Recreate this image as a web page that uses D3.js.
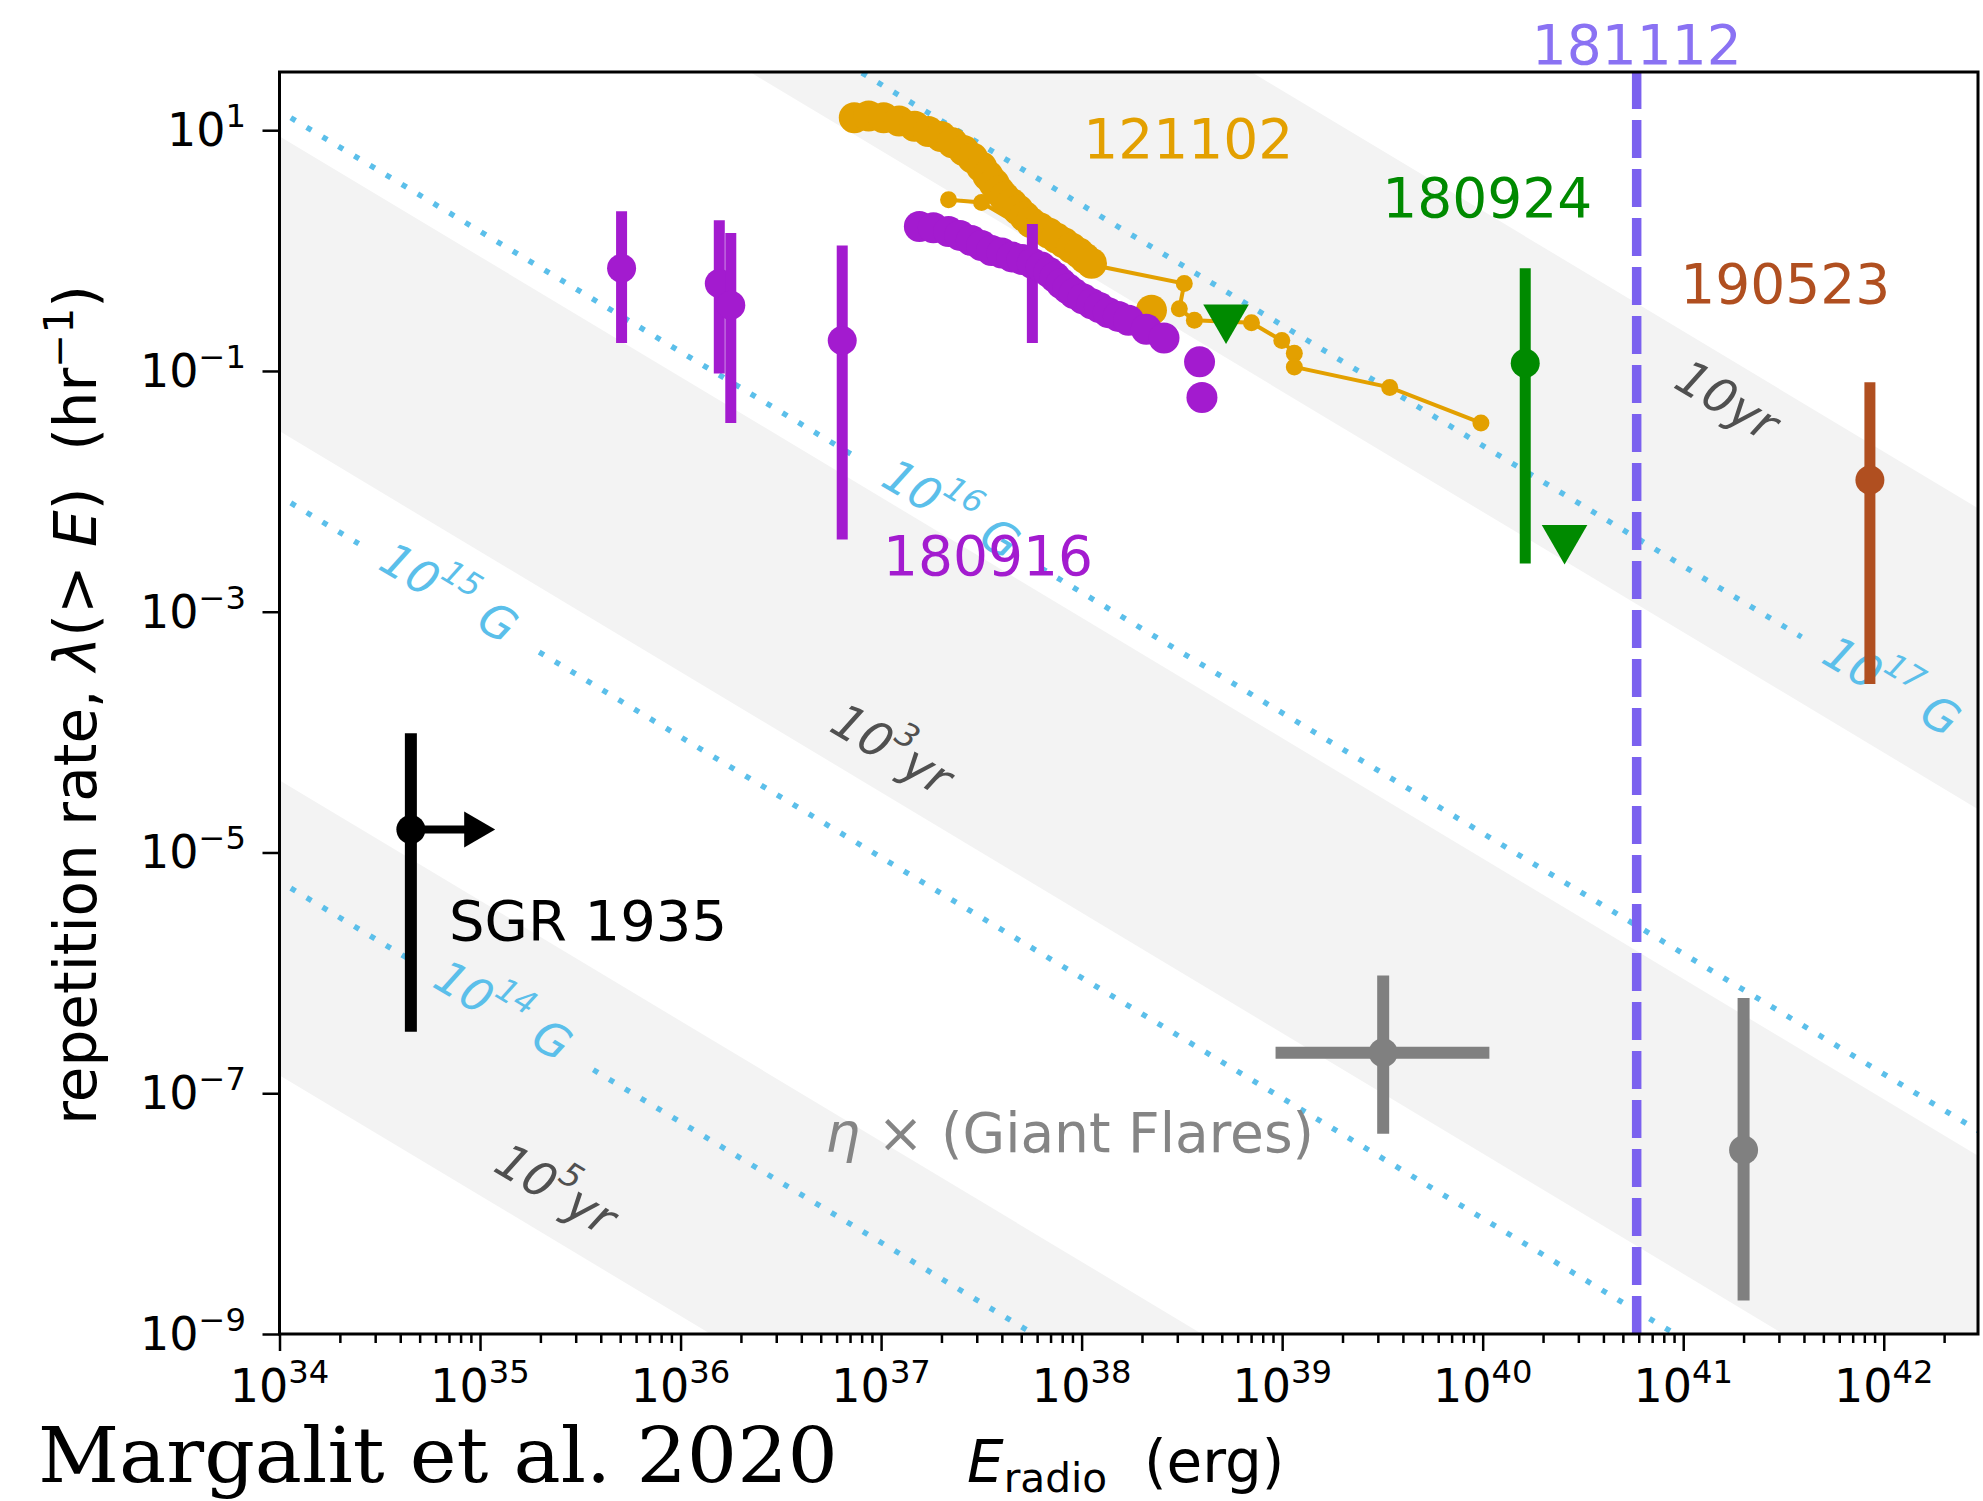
<!DOCTYPE html>
<html>
<head>
<meta charset="utf-8">
<script src="https://cdn.jsdelivr.net/npm/d3@7"></script>
<style>
  body { margin: 0; background: #ffffff; }
  svg text { white-space: pre; }
</style>
</head>
<body>
<svg id="chart" width="1983" height="1501"></svg>
<script>
// ---------------- data ----------------
// axis ticks (powers of ten)
const xMajorExps = [34, 35, 36, 37, 38, 39, 40, 41, 42];
const yMajorExps = [1, -1, -3, -5, -7, -9];

// constant-field lines: log10(E * lambda) for each surface field
const fieldExps = ["14", "15", "16", "17"];
const fieldLogELambda = [28.76, 31.96, 35.16, 38.38];

// age bands: log10(E * lambda) range for each age
const ageExps = ["5", "3", ""];
const ageBandLo = [27.15, 32.50, 37.83];
const ageBandHi = [29.60, 34.95, 40.33];

// FRB 121102 — dense burst sample (large markers)
const r121102E = [7.35e36, 8.67e36, 1.03e37, 1.23e37, 1.47e37, 1.72e37, 1.99e37, 2.27e37, 2.58e37, 2.86e37,
                  3.17e37, 3.41e37, 3.66e37, 3.88e37, 4.12e37, 4.49e37, 4.83e37, 5.20e37, 5.59e37, 6.18e37,
                  6.85e37, 7.48e37, 8.17e37, 8.90e37, 9.71e37, 1.04e38, 1.12e38, 2.23e38];
const r121102Rate = [12.7, 13.1, 12.7, 11.9, 10.8, 9.76, 8.86, 7.85, 6.79, 5.87,
                     4.95, 4.18, 3.61, 3.12, 2.77, 2.45, 2.17, 1.92, 1.71, 1.55,
                     1.40, 1.27, 1.16, 1.05, 0.953, 0.865, 0.785, 0.320];
// FRB 121102 — second sample (joined small markers)
const l121102E = [2.17e37, 3.17e37, 1.03e38, 3.25e38, 3.07e38, 3.65e38, 7.03e38, 9.96e38, 1.15e39, 1.15e39, 3.44e39, 9.8e39];
const l121102Rate = [2.64, 2.51, 0.785, 0.532, 0.328, 0.264, 0.251, 0.179, 0.140, 0.108, 0.073, 0.037];

// FRB 180916 — burst sample
const r180916E = [1.552e37, 1.823e37, 2.170e37, 2.472e37, 2.818e37, 3.169e37, 3.557e37, 3.999e37, 4.490e37, 5.047e37,
                  5.672e37, 6.281e37, 6.855e37, 7.367e37, 7.925e37, 8.525e37, 9.170e37, 1.015e38, 1.124e38, 1.227e38,
                  1.359e38, 1.525e38, 1.713e38, 2.101e38, 2.575e38, 3.873e38, 3.981e38];
const r180916Rate = [1.585, 1.547, 1.438, 1.337, 1.213, 1.102, 1.0, 0.953, 0.886, 0.844,
                     0.785, 0.730, 0.662, 0.601, 0.532, 0.483, 0.439, 0.398, 0.361, 0.336,
                     0.305, 0.284, 0.264, 0.222, 0.188, 0.119, 0.0601];
// FRB 180916 — points with rate uncertainties
const e180916E = [5.08e35, 1.56e36, 1.78e36, 6.40e36, 5.68e37];
const e180916Rate = [0.713, 0.532, 0.352, 0.179, 0.785];
const e180916Lo = [0.171, 0.0953, 0.037, 0.00398, 0.171];
const e180916Hi = [2.12, 1.79, 1.40, 1.10, 1.66];

// FRB 180924
const e180924E = [1.63e40], e180924Rate = [0.116], e180924Lo = [0.00251], e180924Hi = [0.713];
const u180924E = [5.25e38, 2.56e40], u180924Rate = [0.277, 0.00408];   // upper limits

// FRB 190523
const e190523E = [8.53e41], e190523Rate = [0.01245], e190523Lo = [2.51e-4], e190523Hi = [0.0804];

// FRB 181112 energy
const e181112 = 5.86e40;

// SGR 1935+2154 (lower limit on energy)
const sgrE = 4.52e34, sgrRate = 1.55e-5, sgrLo = 3.24e-7, sgrHi = 9.77e-5, sgrEArrow = 1.19e35;

// magnetar giant flares scaled by radio efficiency
const gfE = [3.19e39, 2.0e41];
const gfRate = [2.17e-7, 3.38e-8];
const gfELo = [9.27e38, null], gfEHi = [1.08e40, null];
const gfLo = [4.6e-8, 1.9e-9], gfHi = [9.53e-7, 6.17e-7];

// ---------------- layout ----------------
const SANS = "'DejaVu Sans', sans-serif";
const plotL = 279.5, plotR = 1978, plotT = 72, plotB = 1334;
const x = d3.scaleLog().domain([1e34, Math.pow(10, 42.47)]).range([plotL, plotR]);
const y = d3.scaleLog().domain([1e-9, Math.pow(10, 1.4835)]).range([plotB, plotT]);
const P = v => Math.pow(10, v);

const col = {
  orange: "#e3a000", purple: "#a31bcf", green: "#008a00", brown: "#b04f20",
  slate: "#7b61ef", slateText: "#8a72f3", sky: "#5bbfea", band: "#f3f3f3",
  gray: "#808080", ageText: "#505050"
};

const svg = d3.select("#chart").style("font-family", SANS);
svg.append("rect").attr("width", 1983).attr("height", 1501).attr("fill", "#fff");

svg.append("defs").append("clipPath").attr("id", "plotclip")
  .append("rect").attr("x", plotL).attr("y", plotT).attr("width", plotR - plotL).attr("height", plotB - plotT);

const g = svg.append("g").attr("clip-path", "url(#plotclip)");

// angle (deg) of a constant E*lambda line on screen
const lineAngle = Math.atan2(y(1e-1) - y(1), x(1e36) - x(1e35)) * 180 / Math.PI;

// ---- age bands ----
const eA = 32, eB = 45;
ageBandLo.forEach((lo, i) => {
  const hi = ageBandHi[i];
  const pts = [[eA, lo - eA], [eB, lo - eB], [eB, hi - eB], [eA, hi - eA]]
    .map(p => [x(P(p[0])), y(P(p[1]))]);
  g.append("path").attr("d", d3.line()(pts) + "Z").attr("fill", col.band);
});

// ---- constant-field dotted lines, broken around their labels ----
const fieldLabelLogE = [35.115, 34.845, 37.35, 42.04];
const gapHalf = 0.45;
fieldLogELambda.forEach((L, i) => {
  const c = fieldLabelLogE[i];
  [[eA, c - gapHalf], [c + gapHalf, eB]].forEach(seg => {
    g.append("line")
      .attr("x1", x(P(seg[0]))).attr("y1", y(P(L - seg[0])))
      .attr("x2", x(P(seg[1]))).attr("y2", y(P(L - seg[1])))
      .attr("stroke", col.sky).attr("stroke-width", 5.5)
      .attr("stroke-dasharray", "5.5,13");
  });
  const t = g.append("text")
    .attr("transform", `translate(${x(P(c))},${y(P(L - c)) - 5}) rotate(${lineAngle})`)
    .attr("text-anchor", "middle").attr("dominant-baseline", "central")
    .attr("font-size", 46).attr("font-style", "italic").attr("fill", col.sky);
  t.append("tspan").text("10");
  t.append("tspan").attr("font-size", 32).attr("dy", -19).text(fieldExps[i]);
  t.append("tspan").attr("dy", 19).text(" G");
});

// ---- age labels ----
const ageLabelPos = [[35.379, -7.795], [37.055, -4.14], [41.22, -1.241]];
ageExps.forEach((ex, i) => {
  const p = ageLabelPos[i];
  const t = g.append("text")
    .attr("transform", `translate(${x(P(p[0]))},${y(P(p[1]))}) rotate(${lineAngle})`)
    .attr("text-anchor", "middle").attr("dominant-baseline", "central")
    .attr("font-size", 48).attr("font-style", "italic").attr("fill", col.ageText);
  t.append("tspan").text("10");
  if (ex) {
    t.append("tspan").attr("font-size", 33).attr("dy", -20).text(ex);
    t.append("tspan").attr("dy", 20).text("yr");
  } else {
    t.append("tspan").text("yr");
  }
});

// ---- FRB 181112 dashed vertical ----
g.append("line")
  .attr("x1", x(e181112)).attr("x2", x(e181112))
  .attr("y1", plotB).attr("y2", plotT)
  .attr("stroke", col.slate).attr("stroke-width", 9.5)
  .attr("stroke-dasharray", "38,11");

// ---- FRB 121102 ----
g.append("path")
  .attr("d", d3.line().x(d => x(d[0])).y(d => y(d[1]))(l121102E.map((e, i) => [e, l121102Rate[i]])))
  .attr("fill", "none").attr("stroke", col.orange).attr("stroke-width", 4);
g.selectAll(null).data(l121102E).join("circle")
  .attr("cx", d => x(d)).attr("cy", (d, i) => y(l121102Rate[i])).attr("r", 8.5).attr("fill", col.orange);
g.selectAll(null).data(r121102E).join("circle")
  .attr("cx", d => x(d)).attr("cy", (d, i) => y(r121102Rate[i])).attr("r", 15.5).attr("fill", col.orange);

// ---- error bar helper ----
function vbar(E, lo, hi, color, w) {
  g.append("line").attr("x1", x(E)).attr("x2", x(E)).attr("y1", y(lo)).attr("y2", y(hi))
    .attr("stroke", color).attr("stroke-width", w);
}

// ---- FRB 180916 ----
e180916E.forEach((E, i) => {
  vbar(E, e180916Lo[i], e180916Hi[i], col.purple, 11);
  g.append("circle").attr("cx", x(E)).attr("cy", y(e180916Rate[i])).attr("r", 14.5).attr("fill", col.purple);
});
g.selectAll(null).data(r180916E).join("circle")
  .attr("cx", d => x(d)).attr("cy", (d, i) => y(r180916Rate[i])).attr("r", 15.5).attr("fill", col.purple);

// ---- FRB 180924 ----
e180924E.forEach((E, i) => {
  vbar(E, e180924Lo[i], e180924Hi[i], col.green, 11);
  g.append("circle").attr("cx", x(E)).attr("cy", y(e180924Rate[i])).attr("r", 14.5).attr("fill", col.green);
});
const tri = d3.symbol().type(d3.symbolTriangle).size(900);
u180924E.forEach((E, i) => {
  g.append("path").attr("d", tri())
    .attr("transform", `translate(${x(E)},${y(u180924Rate[i])}) rotate(180)`)
    .attr("fill", col.green);
});

// ---- FRB 190523 ----
e190523E.forEach((E, i) => {
  vbar(E, e190523Lo[i], e190523Hi[i], col.brown, 11);
  g.append("circle").attr("cx", x(E)).attr("cy", y(e190523Rate[i])).attr("r", 14.5).attr("fill", col.brown);
});

// ---- giant flares ----
gfE.forEach((E, i) => {
  if (gfELo[i] !== null) {
    g.append("line").attr("x1", x(gfELo[i])).attr("x2", x(gfEHi[i]))
      .attr("y1", y(gfRate[i])).attr("y2", y(gfRate[i]))
      .attr("stroke", col.gray).attr("stroke-width", 12);
  }
  vbar(E, gfLo[i], gfHi[i], col.gray, 12);
  g.append("circle").attr("cx", x(E)).attr("cy", y(gfRate[i])).attr("r", 14.5).attr("fill", col.gray);
});

// ---- SGR 1935 ----
vbar(sgrE, sgrLo, sgrHi, "#000", 12);
g.append("circle").attr("cx", x(sgrE)).attr("cy", y(sgrRate)).attr("r", 14.5).attr("fill", "#000");
{
  const xs = x(sgrE), xt = x(sgrEArrow), yy = y(sgrRate);
  g.append("line").attr("x1", xs).attr("x2", xt - 28).attr("y1", yy).attr("y2", yy)
    .attr("stroke", "#000").attr("stroke-width", 8);
  g.append("path").attr("d", `M${xt},${yy} L${xt - 31},${yy - 18} L${xt - 31},${yy + 18} Z`).attr("fill", "#000");
}

// ---- source labels ----
const labelFS = 55;
function srcLabel(txt, logE, logR, color) {
  return svg.append("text").attr("x", x(P(logE))).attr("y", y(P(logR)))
    .attr("font-size", labelFS).attr("fill", color).text(txt);
}
srcLabel("121102", 38.008, 0.77, col.orange);
srcLabel("180924", 39.499, 0.276, col.green);
srcLabel("190523", 40.985, -0.439, col.brown);
srcLabel("180916", 37.010, -2.694, col.purple);
srcLabel("SGR 1935", 34.845, -5.727, "#000").attr("font-size", 56);
{
  const t = svg.append("text").attr("x", x(P(36.721))).attr("y", y(P(-7.488)))
    .attr("font-size", labelFS).attr("fill", "#858585");
  t.append("tspan").attr("font-style", "italic").text("η");
  t.append("tspan").text(" × (Giant Flares)");
}
svg.append("text").attr("x", x(e181112)).attr("y", plotT - 8)
  .attr("text-anchor", "middle").attr("font-size", labelFS).attr("fill", col.slateText).text("181112");

// ---------------- axes ----------------
const tickFS = 46;
const xMinor = [];
xMajorExps.forEach(k => { for (let m = 2; m <= 9; m++) { const v = m * P(k); if (v <= x.domain()[1]) xMinor.push(v); } });

const xAxisG = svg.append("g").attr("transform", `translate(0,${plotB})`);
xAxisG.call(d3.axisBottom(x).tickValues(xMinor).tickSize(9).tickFormat(""));
xAxisG.append("g").call(d3.axisBottom(x).tickValues(xMajorExps.map(P)).tickSize(17).tickFormat(""));
xAxisG.selectAll(".domain").remove();
xAxisG.selectAll("line").attr("stroke", "#000").attr("stroke-width", 2.5);

xMajorExps.forEach(k => {
  const t = svg.append("text").attr("x", x(P(k))).attr("y", 1402)
    .attr("text-anchor", "middle").attr("font-size", tickFS).attr("fill", "#000");
  t.append("tspan").text("10");
  t.append("tspan").attr("font-size", tickFS * 0.7).attr("dy", -19).text(String(k));
});

const yAxisG = svg.append("g").attr("transform", `translate(${plotL},0)`);
yAxisG.call(d3.axisLeft(y).tickValues(yMajorExps.map(P)).tickSize(17).tickFormat(""));
yAxisG.selectAll(".domain").remove();
yAxisG.selectAll("line").attr("stroke", "#000").attr("stroke-width", 2.5);

yMajorExps.forEach(k => {
  const t = svg.append("text").attr("x", 246).attr("y", y(P(k)) + 16)
    .attr("text-anchor", "end").attr("font-size", tickFS).attr("fill", "#000");
  t.append("tspan").text("10");
  t.append("tspan").attr("font-size", tickFS * 0.7).attr("dy", -19).text(String(k).replace("-", "\u2212"));
});

// frame
svg.append("rect").attr("x", plotL).attr("y", plotT).attr("width", plotR - plotL).attr("height", plotB - plotT)
  .attr("fill", "none").attr("stroke", "#000").attr("stroke-width", 3);

// axis titles
{
  const fs = 58;
  const t = svg.append("text").attr("transform", `translate(96,${(plotT + plotB) / 2 + 2}) rotate(-90)`)
    .attr("text-anchor", "middle").attr("font-size", fs).attr("fill", "#000");
  t.append("tspan").text("repetition rate, ");
  t.append("tspan").attr("font-style", "italic").text("λ");
  t.append("tspan").text("(> ");
  t.append("tspan").attr("font-style", "italic").text("E");
  t.append("tspan").text(")  (hr");
  t.append("tspan").attr("font-size", fs * 0.7).attr("dy", -23).text("\u22121");
  t.append("tspan").attr("dy", 23).text(")");

  const tx = svg.append("text").attr("x", (plotL + plotR) / 2 - 3).attr("y", 1482)
    .attr("text-anchor", "middle").attr("font-size", fs).attr("fill", "#000");
  tx.append("tspan").attr("font-style", "italic").text("E");
  tx.append("tspan").attr("font-size", fs * 0.7).attr("dy", 10).text("radio");
  tx.append("tspan").attr("dy", -10).text("  (erg)");
}

// citation
svg.append("text").attr("x", 38).attr("y", 1482)
  .style("font-family", "'DejaVu Serif', serif").attr("font-size", 76).attr("fill", "#000")
  .attr("textLength", 800).attr("lengthAdjust", "spacingAndGlyphs")
  .text("Margalit et al. 2020");
</script>
</body>
</html>
